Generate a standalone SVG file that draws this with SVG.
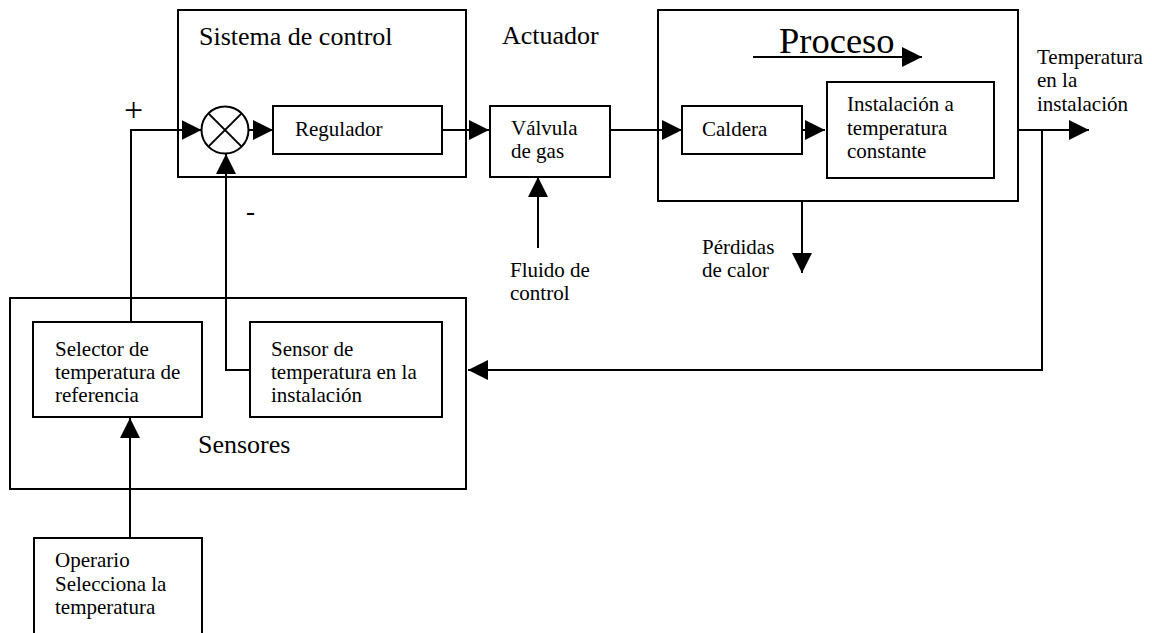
<svg xmlns="http://www.w3.org/2000/svg" width="1152" height="633" viewBox="0 0 1152 633">
<style>
.box{fill:none;stroke:#000;stroke-width:2}
.ln{fill:none;stroke:#000;stroke-width:2}
text{font-family:"Liberation Serif","DejaVu Serif","Noto Serif",serif;fill:#000}
.t{font-size:21px}
.h{font-size:26px}
</style>
<defs>
<marker id="ah" markerUnits="userSpaceOnUse" markerWidth="20" markerHeight="20" refX="20" refY="10" orient="auto" viewBox="0 0 20 20">
<path d="M0,0 L20,10 L0,20 z" fill="#000"/>
</marker>
</defs>
<rect width="1152" height="633" fill="#fff"/>

<g id="sistema">
<rect class="box" x="178" y="10" width="288" height="167"/>
<text class="h" x="199" y="45">Sistema de control</text>
</g>
<g id="sumador">
<circle class="box" cx="225" cy="130" r="23.5"/>
<path class="ln" d="M208.4,113.4 L241.6,146.6 M241.6,113.4 L208.4,146.6"/>
</g>
<g id="regulador">
<rect class="box" x="273" y="106" width="169" height="48"/>
<text class="t" x="295" y="136">Regulador</text>
</g>
<g id="actuador">
<text class="h" x="502" y="44">Actuador</text>
</g>
<g id="valvula">
<rect class="box" x="490" y="106" width="120" height="71"/>
<text class="t" x="511" y="135">Válvula</text>
<text class="t" x="511" y="158">de gas</text>
</g>
<g id="proceso">
<rect class="box" x="658" y="10" width="360" height="191"/>
<text x="779" y="53" font-size="36.5">Proceso</text>
</g>
<g id="caldera">
<rect class="box" x="682" y="106" width="120" height="48"/>
<text class="t" x="702" y="136">Caldera</text>
</g>
<g id="instalacion">
<rect class="box" x="827" y="82" width="167" height="96"/>
<text class="t" x="847" y="111">Instalación a</text>
<text class="t" x="847" y="135">temperatura</text>
<text class="t" x="847" y="158">constante</text>
</g>
<g id="salida">
<text class="t" x="1037" y="64">Temperatura</text>
<text class="t" x="1037" y="87">en la</text>
<text class="t" x="1037" y="111">instalación</text>
</g>
<g id="fluido">
<text class="t" x="510" y="277">Fluido de</text>
<text class="t" x="510" y="300">control</text>
</g>
<g id="perdidas">
<text class="t" x="702" y="254">Pérdidas</text>
<text class="t" x="702" y="277">de calor</text>
</g>
<g id="sensores">
<rect class="box" x="10" y="298" width="456" height="191"/>
<text class="h" x="198" y="453">Sensores</text>
</g>
<g id="selector">
<rect class="box" x="33" y="322" width="169" height="95"/>
<text class="t" x="55" y="356">Selector de</text>
<text class="t" x="55" y="379">temperatura de</text>
<text class="t" x="55" y="402">referencia</text>
</g>
<g id="sensor">
<rect class="box" x="250" y="322" width="192" height="95"/>
<text class="t" x="271" y="356">Sensor de</text>
<text class="t" x="271" y="379">temperatura en la</text>
<text class="t" x="271" y="402">instalación</text>
</g>
<g id="operario">
<rect class="box" x="34" y="538" width="168" height="120"/>
<text class="t" x="55" y="567">Operario</text>
<text class="t" x="55" y="591">Selecciona la</text>
<text class="t" x="55" y="614">temperatura</text>
</g>
<g id="signos">
<text x="124" y="121" font-size="34">+</text>
<text x="246" y="220" font-size="27">-</text>
</g>

<g id="connectors">
<path class="ln" d="M131,322 L131,130 L201.5,130" marker-end="url(#ah)"/>
<path class="ln" d="M248.5,130 L273,130" marker-end="url(#ah)"/>
<path class="ln" d="M442,130 L489,130" marker-end="url(#ah)"/>
<path class="ln" d="M610,130 L682,130" marker-end="url(#ah)"/>
<path class="ln" d="M802,130 L825,130" marker-end="url(#ah)"/>
<path class="ln" d="M1018,130 L1089,130" marker-end="url(#ah)"/>
<path class="ln" d="M1042,130 L1042,370 L468,370" marker-end="url(#ah)"/>
<path class="ln" d="M250,370 L226,370 L226,154" marker-end="url(#ah)"/>
<path class="ln" d="M538,248 L538,177" marker-end="url(#ah)"/>
<path class="ln" d="M802,201 L802,273" marker-end="url(#ah)"/>
<path class="ln" d="M130,538 L130,418" marker-end="url(#ah)"/>
<path class="ln" d="M753,57 L922,57" marker-end="url(#ah)"/>
</g>
</svg>
